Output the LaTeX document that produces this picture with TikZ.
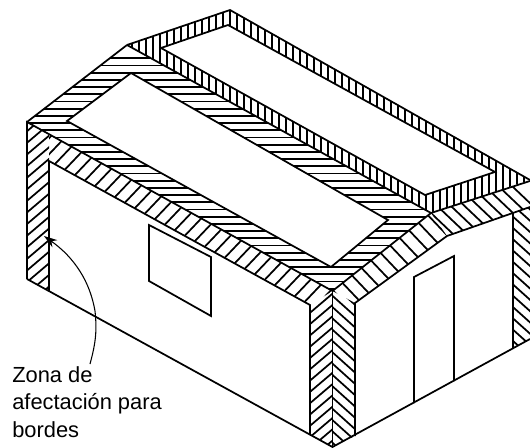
\documentclass[tikz,border=0pt]{standalone}
\usepackage{fontspec}
\setmainfont{Liberation Sans}
\usetikzlibrary{arrows.meta}
\tikzset{
  edge/.style={draw=black,line width=1.3pt,line join=miter,line cap=butt},
  hatchline/.style={black,line width=1.3pt},
  leader/.style={draw=black,line width=0.8pt,-{Stealth[length=10pt,width=6.5pt]}},
  labeltext/.style={align=left,inner sep=0pt,anchor=north west,font=\fontsize{16.4pt}{20.6pt}\selectfont}
}
\begin{document}
\begin{tikzpicture}[x=0.75pt,y=-0.75pt]
\useasboundingbox (0,0) rectangle (530,448);
% rear roof vertical hatch
\begin{scope}
\clip (127,45)--(230,10)--(530,180)--(431,213)--cycle;
\foreach \k in {-15,...,44} {\draw[hatchline] (230+7*\k,0)--(230+7*\k,230);}
\end{scope}
\fill[white] (161,48)--(228,25)--(495,172)--(425,195)--cycle;
% front roof horizontal hatch
\begin{scope}
\clip (27,122)--(127,45)--(431,213)--(332.5,291)--cycle;
\foreach \k in {0,...,33} {\draw[hatchline] (0,58.3+7.2*\k)--(530,58.3+7.2*\k);}
\end{scope}
\fill[white] (67,121)--(131,73)--(388,220)--(331,267)--cycle;
% left strip "/" hatch
\begin{scope}
\clip (27,122)--(49,134.2)--(49,291)--(27,279)--cycle;
\foreach \k in {-2,...,15} {\draw[hatchline] (20,148.8+11.6*\k)--(60,148.8+11.6*\k-0.85*40);}
\end{scope}
% front eave "/" hatch
\begin{scope}
\clip (49,134.2)--(332.5,291)--(310,305)--(49,161)--cycle;
\foreach \k in {-6,...,28} {\draw[hatchline] (20,175+16*\k+1.05*55)--(340,175+16*\k-1.05*265);}
\end{scope}
% left corner "/" hatch
\begin{scope}
\clip (332.5,291)--(332.5,447)--(310,435)--(310,305)--cycle;
\foreach \k in {-4,...,15} {\draw[hatchline] (300,316.7+11.3*\k+0.85*32)--(340,316.7+11.3*\k-0.85*8);}
\end{scope}
% gable lower run "\" hatch
\begin{scope}
\clip (332.5,291)--(431,213)--(447,236)--(355,303)--cycle;
\foreach \k in {-10,...,10} {\draw[hatchline] (325,273+17.5*\k-1.05*58)--(455,273+17.5*\k+1.05*72);}
\end{scope}
% gable upper run "\" hatch
\begin{scope}
\clip (431,213)--(530,181)--(530,207)--(447,236)--cycle;
\foreach \k in {-8,...,10} {\draw[hatchline] (420,234+13*\k-0.95*33)--(535,234+13*\k+0.95*82);}
\end{scope}
% right corner "\" hatch
\begin{scope}
\clip (332.5,291)--(355,303)--(355,436)--(332.5,447)--cycle;
\foreach \k in {-4,...,15} {\draw[hatchline] (325,318+11.3*\k-0.9*7)--(365,318+11.3*\k+0.9*33);}
\end{scope}
% right strip "\" hatch
\begin{scope}
\clip (513,213)--(530,207)--(530,339)--(513,348)--cycle;
\foreach \k in {-2,...,13} {\draw[hatchline] (505,216.7+11.3*\k-0.9*8)--(535,216.7+11.3*\k+0.9*22);}
\end{scope}
% outlines
\draw[edge] (127,45)--(230,10)--(530,180);
\draw[edge] (161,48)--(228,25)--(495,172)--(425,195)--cycle;
\draw[edge] (127,45)--(431,213)--(530,181);
\draw[edge] (27,122)--(127,45);
\draw[edge] (67,121)--(131,73)--(388,220)--(331,267)--cycle;
\draw[edge] (27,279)--(27,122)--(332.5,291)--(431,213);
\draw[edge] (49,291)--(49,161)--(310,305)--(310,435);
\draw[edge] (27,279)--(332.5,447)--(530,339);
\draw[edge] (332.5,291)--(332.5,447);
\draw[edge] (355,436)--(355,303)--(447,236)--(530,207);
\draw[edge] (513,213)--(513,348);
\draw[edge] (149,225)--(211,257)--(211,316)--(149,281)--cycle;
\draw[edge] (414,403)--(414,277)--(454,256)--(454,381);
% label
\node[labeltext] (lbl) at (12,366) {Zona de\\afectación para\\bordes};
\coordinate (lstart) at (90,364);
\coordinate (lmid) at (95,311);
\coordinate (ltip) at (44,236);
\draw[leader] (lstart) .. controls (96,342) and (97,330) .. (lmid) .. controls (90,282) and (75,258) .. (ltip);
\end{tikzpicture}
\end{document}
